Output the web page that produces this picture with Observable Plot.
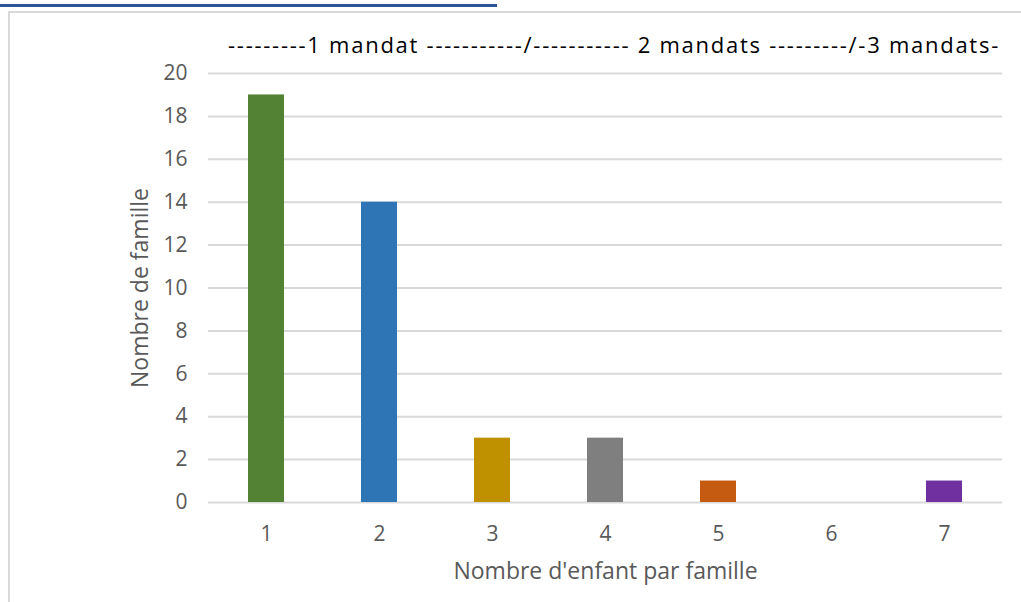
<!DOCTYPE html>
<html><head><meta charset="utf-8">
<script src="https://cdn.jsdelivr.net/npm/d3@7"></script>
<script src="https://cdn.jsdelivr.net/npm/@observablehq/plot@0.6"></script>
<style>
body{margin:0;background:#fff;font-family:"Open Sans",sans-serif;}
#wrap{position:relative;width:1021px;height:602px;overflow:hidden;}
#topline{position:absolute;left:0;top:4px;width:497px;height:3px;background:#2f5597;}
#frame{position:absolute;left:8px;top:11px;width:1040px;height:620px;border:2px solid #d9d9d9;box-sizing:border-box;}
#title{position:absolute;left:228px;top:29px;font-size:22px;color:#000;white-space:nowrap;}
#chart{position:absolute;left:0;top:0;}
</style></head>
<body><div id="wrap"><div id="frame"></div><div id="topline"></div><div id="chart"></div>
<div id="title"></div></div>
<script>
const categories = ["1","2","3","4","5","6","7"];
const counts = [19,14,3,3,1,0,1];
const colors = ["#548235","#2e75b6","#bf9000","#7f7f7f","#c55a11","#7030a0","#7030a0"];
const yTicks = [0,2,4,6,8,10,12,14,16,18,20];
const titleText = "---------1 mandat -----------/----------- 2 mandats ---------/-3 mandats-";
const xLabel = "Nombre d'enfant par famille";
const yLabel = "Nombre de famille";

const title = document.getElementById("title");
title.textContent = titleText;
const data = categories.map((c,i)=>({c, v:counts[i], col:colors[i]}));

const chart = Plot.plot({
  width:1021, height:602,
  marginLeft:208, marginRight:19, marginTop:73, marginBottom:100,
  style:{fontFamily:"Open Sans, sans-serif", fontSize:"21px", color:"#595959", background:"transparent"},
  x:{domain:categories, paddingInner:0.68, paddingOuter:0.34, label:null},
  y:{domain:[0,20], ticks:yTicks, label:null},
  marks:[
    Plot.gridY(yTicks,{stroke:"#d9d9d9", strokeOpacity:1, strokeWidth:2}),
    Plot.barY(data,{x:"c", y:"v", fill:"col"}),
    Plot.axisX({tickSize:0, tickPadding:24, label:null, fontSize:21, fill:"#595959"}),
    Plot.axisY({ticks:yTicks, tickSize:0, tickPadding:21, label:null, fontSize:21, fill:"#595959"}),
    Plot.text([xLabel],{frameAnchor:"bottom", dy:76, fontSize:23, fill:"#595959"}),
    Plot.text([yLabel],{frameAnchor:"left", textAnchor:"middle", dx:-68, rotate:-90, fontSize:23, fill:"#595959"})
  ]
});
document.getElementById("chart").appendChild(chart);
// fit title to the reference width
const w = title.getBoundingClientRect().width;
title.style.letterSpacing = ((772 - w) / titleText.length) + "px";
</script></body></html>
